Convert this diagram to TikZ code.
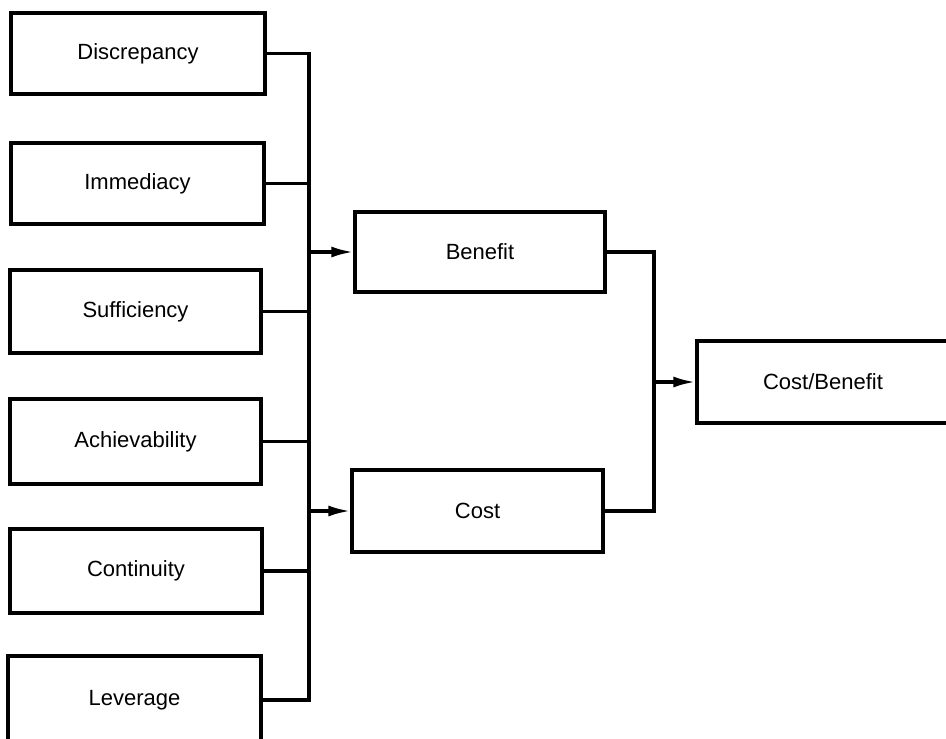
\documentclass[tikz,border=0pt]{standalone}
\usepackage{fontspec}
\setmainfont{Liberation Sans}
\usetikzlibrary{arrows.meta}
\begin{document}
\begin{tikzpicture}[x=1pt,y=-1pt,
  box/.style={draw, line width=3.2pt, rectangle, minimum width=252pt, minimum height=82pt,
    inner sep=0pt, font=\fontsize{22}{26}\selectfont},
  wire/.style={line width=3.2pt},
  feed/.style={wire, -{Latex[length=22pt,width=11pt]}}]
\useasboundingbox (0,0) rectangle (946,739);
\clip (0,0) rectangle (946,739);
% input factors
\node[box, minimum width=254pt, minimum height=81pt] (disc) at (138,53.5) {Discrepancy};
\node[box, minimum width=253pt, minimum height=81pt] (imm) at (137.5,183.5) {Immediacy};
\node[box, minimum width=251pt, minimum height=83pt] (suff) at (135.5,311.5) {Sufficiency};
\node[box, minimum width=251pt, minimum height=85pt] (ach) at (135.5,441.5) {Achievability};
\node[box, minimum width=252pt, minimum height=84pt] (cont) at (136,571) {Continuity};
\node[box, minimum width=253pt, minimum height=88pt] (lev) at (134.5,700) {Leverage};
% intermediate results
\node[box, minimum width=250pt, minimum height=80pt] (ben) at (480,252) {Benefit};
\node[box, minimum width=251pt, minimum height=82pt] (cost) at (477.5,511) {Cost};
% final result
\node[box, minimum width=252pt, minimum height=82pt] (cb) at (823,382) {Cost/Benefit};
% collecting buses
\coordinate (bus) at (309,0);
\coordinate (rbus) at (654,0);
\draw[wire] (disc.east) -| (bus |- lev.east) -- (lev.east);
\draw[wire] (imm.east) -- (imm.east -| bus);
\draw[wire] (suff.east) -- (suff.east -| bus);
\draw[wire] (ach.east) -- (ach.east -| bus);
\draw[wire] (cont.east) -- (cont.east -| bus);
\draw[feed] (bus |- ben.west) -- (ben.west);
\draw[feed] (bus |- cost.west) -- (cost.west);
\draw[wire] (ben.east) -| (rbus |- cost.east) -- (cost.east);
\draw[feed] (rbus |- cb.west) -- (cb.west);
\end{tikzpicture}
\end{document}
